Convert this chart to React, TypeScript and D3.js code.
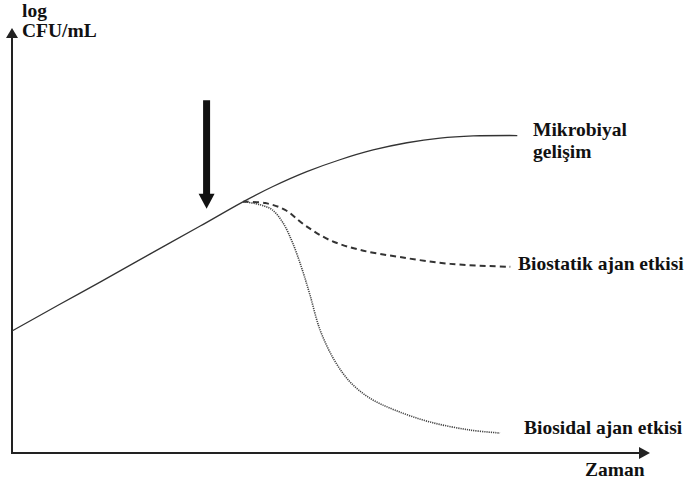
import React from "react";
import * as d3 from "d3";

const growthT = [0, 7.5, 13.8, 21.6, 29.5, 36.2, 40.9, 46.2, 51.4, 56.6, 61.9, 67.1, 72.3, 79.2];
const growthV = [28.7, 35.0, 40.2, 46.8, 53.4, 59.1, 62.7, 66.2, 69.0, 71.3, 73.0, 74.1, 74.6, 74.7];

const staticT = [36.2, 39.7, 42.8, 45.9, 49.8, 54.5, 60.8, 68.7, 78.1];
const staticV = [59.1, 58.8, 57.2, 53.6, 50.1, 47.8, 46.1, 44.5, 43.8];

const cidalT = [36.5, 38.9, 40.8, 42.5, 44.0, 45.5, 46.7, 48.3, 50.5, 53.0, 56.1, 60.0, 65.5, 71.8, 76.5];
const cidalV = [59.1, 58.4, 57.2, 54.1, 49.4, 43.1, 37.2, 28.9, 21.9, 16.7, 12.9, 10.1, 7.3, 5.4, 4.7];

const arrowT = 30.5;
const arrowV = [83, 57.5];

const W = 686, H = 486;
const x = d3.scaleLinear().domain([0, 100]).range([12, 650]);
const y = d3.scaleLinear().domain([0, 100]).range([453, 28]);

const line = d3.line<[number, number]>().x(d => x(d[0])).y(d => y(d[1])).curve(d3.curveCatmullRom.alpha(0.5));
const zip = (a: number[], b: number[]) => a.map((v, i) => [v, b[i]] as [number, number]);

export default function App() {
  const ax = x(arrowT);
  const aTop = y(arrowV[0]);
  const aTip = y(arrowV[1]);
  const tp = { fontFamily: "Liberation Serif", fontWeight: "bold", fontSize: 19.5, fill: "#111" } as const;
  return (
    <svg width={W} height={H} style={{ position: "absolute", left: 0, top: 0, background: "#fff" }}>
      {/* axes */}
      <line x1={x(0)} y1={y(0)} x2={x(0)} y2={y(100) + 6} stroke="#222" strokeWidth={2} />
      <path d={`M${x(0)},${y(100)} L${x(0) - 6},${y(100) + 10} L${x(0) + 6},${y(100) + 10} Z`} fill="#222" />
      <line x1={x(0) - 1} y1={y(0)} x2={x(100) - 6} y2={y(0)} stroke="#222" strokeWidth={2} />
      <path d={`M${x(100)},${y(0)} L${x(100) - 11},${y(0) - 6} L${x(100) - 11},${y(0) + 6} Z`} fill="#222" />

      {/* curves */}
      <path d={line(zip(growthT, growthV)) || ""} fill="none" stroke="#333" strokeWidth={1.3} />
      <path d={line(zip(staticT, staticV)) || ""} fill="none" stroke="#333" strokeWidth={2} strokeDasharray="6,4" />
      <path d={line(zip(cidalT, cidalV)) || ""} fill="none" stroke="#444" strokeWidth={1.6} strokeDasharray="1.2,1" />

      {/* big arrow */}
      <rect x={ax - 3.5} y={aTop} width={7} height={aTip - aTop - 12} fill="#111" />
      <path d={`M${ax},${aTip} L${ax - 8},${aTip - 15} L${ax + 8},${aTip - 15} Z`} fill="#111" />

      {/* labels */}
      <text {...tp} x={22} y={17}>log</text>
      <text {...tp} x={22} y={37}>CFU/mL</text>
      <text {...tp} x={533} y={136}>Mikrobiyal</text>
      <text {...tp} x={533} y={158}>gelişim</text>
      <text {...tp} x={518} y={270}>Biostatik ajan etkisi</text>
      <text {...tp} x={524} y={434}>Biosidal ajan etkisi</text>
      <text {...tp} x={585} y={476}>Zaman</text>
    </svg>
  );
}
